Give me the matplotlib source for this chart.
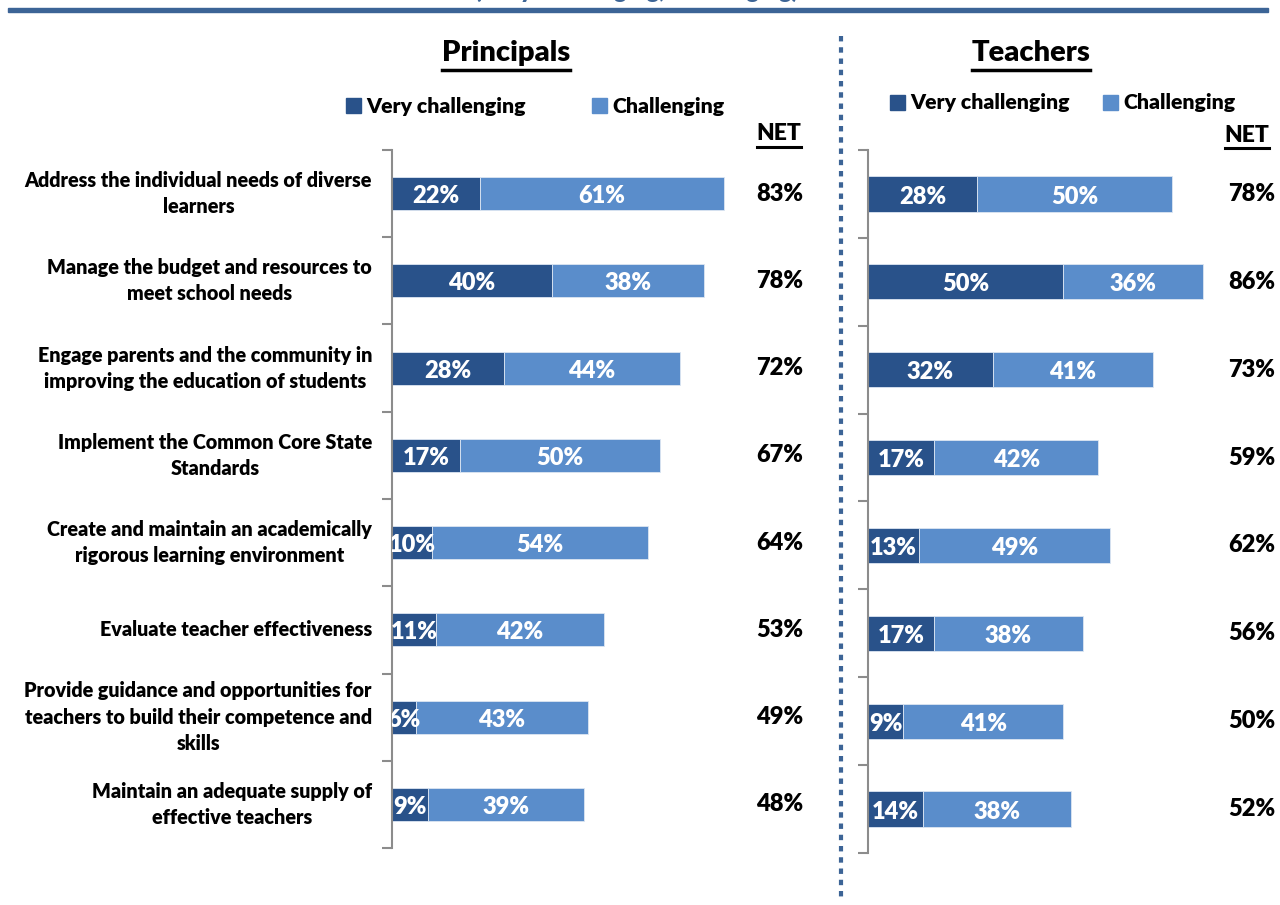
import matplotlib
matplotlib.use("Agg")
import matplotlib.pyplot as plt
from matplotlib.patches import Rectangle
from matplotlib.lines import Line2D
import matplotlib.transforms as mtransforms

plt.rcParams['font.family'] = ['Lato', 'DejaVu Sans']

categories = [
    "Address the individual needs of diverse\nlearners",
    "Manage the budget and resources to\nmeet school needs",
    "Engage parents and the community in\nimproving the education of students",
    "Implement the Common Core State\nStandards",
    "Create and maintain an academically\nrigorous learning environment",
    "Evaluate teacher effectiveness",
    "Provide guidance and opportunities for\nteachers to build their competence and\nskills",
    "Maintain an adequate supply of\neffective teachers",
]
principals_very = [22, 40, 28, 17, 10, 11, 6, 9]
principals_chal = [61, 38, 44, 50, 54, 42, 43, 39]
principals_net = [83, 78, 72, 67, 64, 53, 49, 48]
teachers_very = [28, 50, 32, 17, 13, 17, 9, 14]
teachers_chal = [50, 36, 41, 42, 49, 38, 41, 38]
teachers_net = [78, 86, 73, 59, 62, 56, 50, 52]
series_names = ["Very challenging", "Challenging"]
panel_titles = ["Principals", "Teachers"]

DARK = '#29528A'
LIGHT = '#5A8DCB'
BLUE_RULE = '#3C6496'
WEIGHT = 'heavy'

W, H = 1280, 905
fig = plt.figure(figsize=(W / 100, H / 100), dpi=100)

def px_axes(left, top, right, bottom):
    return fig.add_axes([left / W, 1 - bottom / H, (right - left) / W, (bottom - top) / H])

def underline_text(t, pad=3, lw=2.2):
    fig.canvas.draw()
    bb = t.get_window_extent(renderer=fig.canvas.get_renderer())
    y = bb.y0 - pad
    fig.add_artist(Line2D([bb.x0 / W, bb.x1 / W], [y / H, y / H], color='black', lw=lw,
                          transform=fig.transFigure))

def draw_panel(ax, very, chal, net, height, net_x):
    n = len(very)
    ys = list(range(n))
    ax.barh(ys, very, height=height, color=DARK, edgecolor='#DCE6F2', linewidth=0.6)
    ax.barh(ys, chal, left=very, height=height, color=LIGHT, edgecolor='#DCE6F2', linewidth=0.6)
    ax.set_xlim(0, 100)
    ax.set_ylim(n - 0.5, -0.5)
    for s in ['top', 'right', 'bottom']:
        ax.spines[s].set_visible(False)
    ax.spines['left'].set_color('#8C8C8C')
    ax.spines['left'].set_linewidth(1.5)
    ax.set_xticks([])
    ax.set_yticks([i - 0.5 for i in range(n + 1)])
    ax.set_yticklabels([])
    ax.tick_params(axis='y', length=7, width=1.5, color='#8C8C8C', direction='out')
    tr = mtransforms.blended_transform_factory(ax.transAxes, ax.transData)
    for i in range(n):
        ax.text(very[i] / 2, i + 0.03, f"{very[i]}%", ha='center', va='center', color='white',
                fontsize=17, fontweight=WEIGHT, clip_on=True)
        ax.text(very[i] + chal[i] / 2, i + 0.03, f"{chal[i]}%", ha='center', va='center',
                color='white', fontsize=17, fontweight=WEIGHT, clip_on=True)
        ax.text(net_x, i, f"{net[i]}%", transform=tr, ha='center', va='center', color='black',
                fontsize=17, fontweight=WEIGHT)

# Principals
axp = px_axes(392, 150, 792, 848)
draw_panel(axp, principals_very, principals_chal, principals_net, 0.38, (780 - 392) / 400)
lab_tr = mtransforms.blended_transform_factory(fig.transFigure, axp.transData)
for i, c in enumerate(categories):
    axp.text(372 / W, i, c, transform=lab_tr, ha='right', va='center', fontsize=14.2,
             fontweight=WEIGHT, multialignment='center', linespacing=1.45)

# Teachers
axt = px_axes(868, 150, 1258, 853)
draw_panel(axt, teachers_very, teachers_chal, teachers_net, 0.40, (1252 - 868) / 390)

# Panel titles
tp = fig.text(506 / W, 1 - 53 / H, panel_titles[0], ha='center', va='center', fontsize=21,
              fontweight=WEIGHT)
tt = fig.text(1031 / W, 1 - 53 / H, panel_titles[1], ha='center', va='center', fontsize=21,
              fontweight=WEIGHT)
n1 = fig.text(779 / W, 1 - 134 / H, "NET", ha='center', va='center', fontsize=16.5, fontweight=WEIGHT)
n2 = fig.text(1247 / W, 1 - 135 / H, "NET", ha='center', va='center', fontsize=16.5, fontweight=WEIGHT)

# Legends
def legend_item(x_sq, y_c, color, label):
    fig.add_artist(Rectangle((x_sq / W, (H - y_c - 7.5) / H), 15 / W, 15 / H, color=color,
                             transform=fig.transFigure))
    fig.text((x_sq + 20) / W, 1 - y_c / H, label, ha='left', va='center', fontsize=15.3,
             fontweight=WEIGHT)

legend_item(346, 106, DARK, series_names[0])
legend_item(592, 106, LIGHT, series_names[1])
legend_item(890, 103, DARK, series_names[0])
legend_item(1103, 103, LIGHT, series_names[1])

# Top cut-off subtitle and rule
fig.text(637 / W, 1 + 2 / H, "(Very challenging, challenging)", ha='center', va='baseline',
         fontsize=17, fontweight=WEIGHT, color=BLUE_RULE)
fig.add_artist(Rectangle((8 / W, 1 - 12 / H), 1260 / W, 4 / H, color=BLUE_RULE,
                         transform=fig.transFigure))

# Dotted separator
fig.add_artist(Line2D([841 / W, 841 / W], [1 - 36 / H, 1 - 900 / H], color='#3C6496', lw=3,
                      linestyle=(0, (1.3, 1.4)), transform=fig.transFigure))

for t in (tp, tt):
    underline_text(t, pad=4, lw=2.5)
for t in (n1, n2):
    underline_text(t, pad=3, lw=2.2)

fig.savefig("out.png", dpi=100)
